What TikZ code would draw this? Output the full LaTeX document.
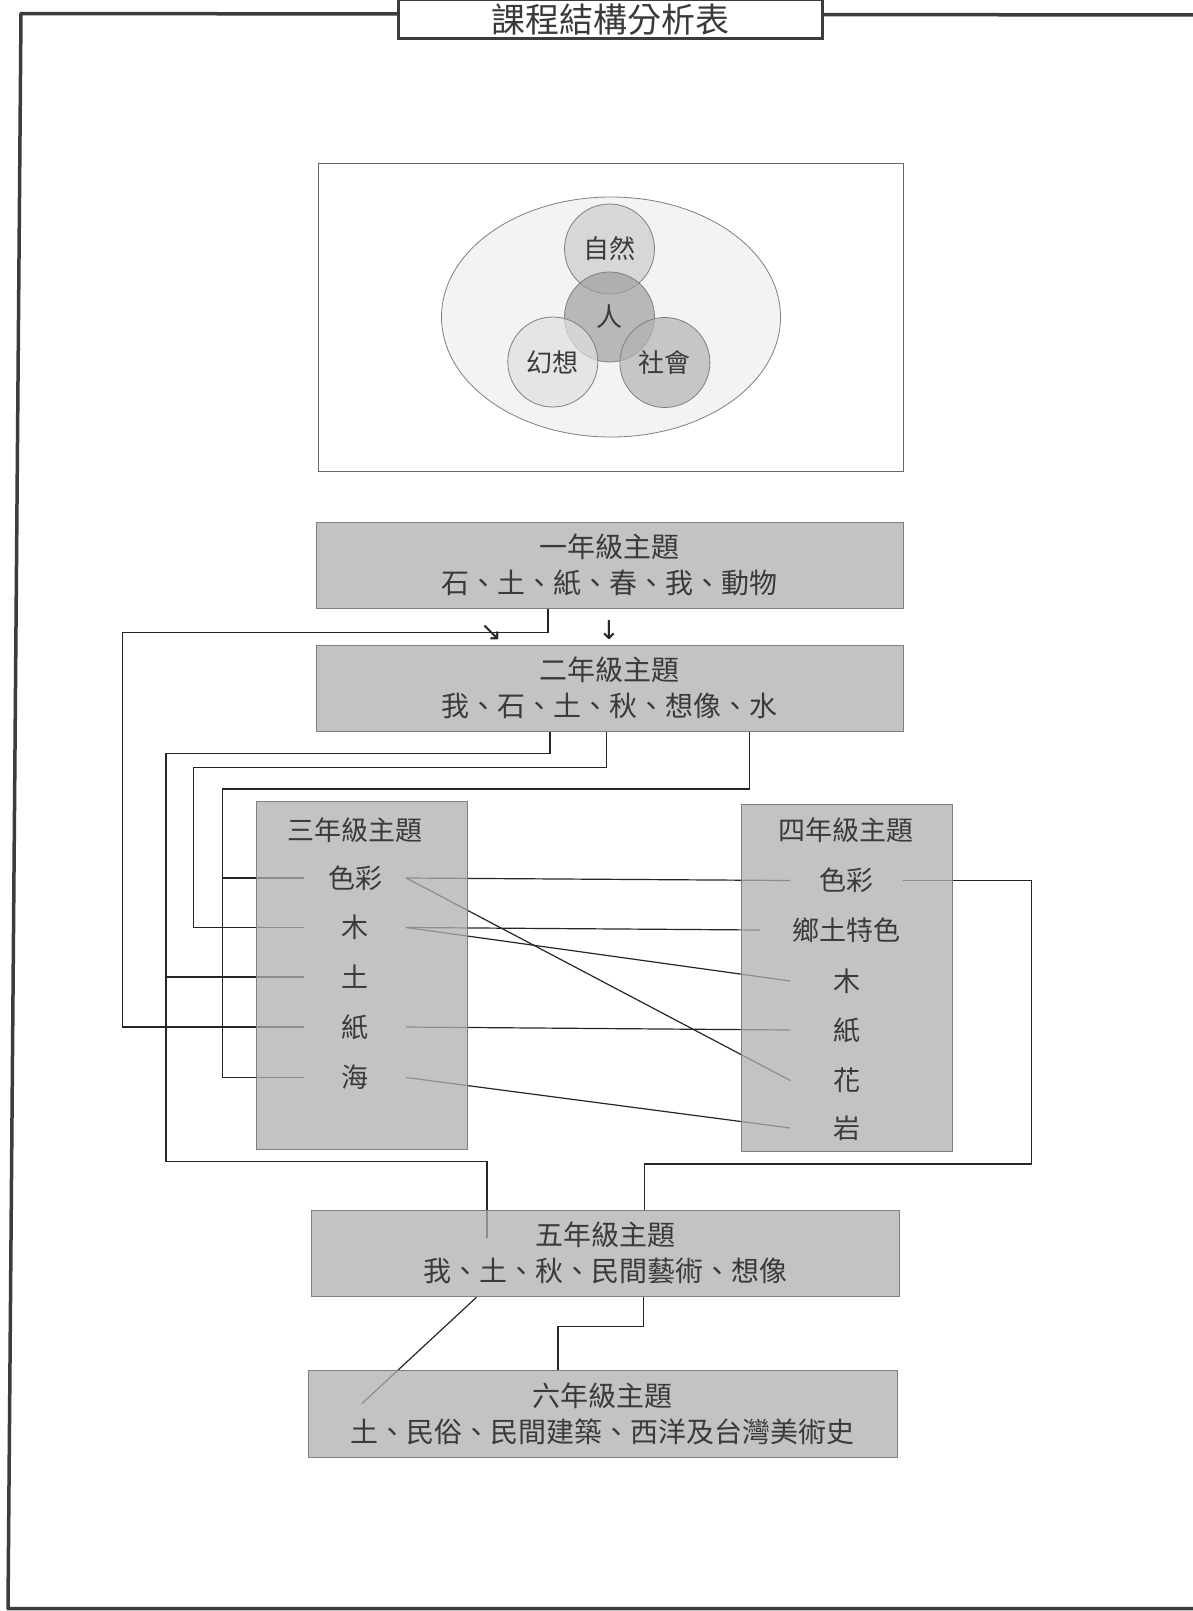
\documentclass[tikz,border=0pt]{standalone}
\usepackage{fontspec}
\setmainfont{Noto Sans CJK TC}
\newfontfamily\arrowfont{DejaVu Sans}
\usepackage{tikz}
\usetikzlibrary{calc}
\definecolor{ink}{HTML}{3A3A3A}
\definecolor{framec}{HTML}{3C3C3C}
\definecolor{wire}{HTML}{262626}
\definecolor{edge}{HTML}{7F7F7F}
\definecolor{boxc}{HTML}{B0B0B0}
\definecolor{pale}{HTML}{F3F3F3}
\definecolor{ziranc}{HTML}{CCCCCC}
\definecolor{renc}{HTML}{9F9F9F}
\definecolor{huanc}{HTML}{E0E0E0}
\definecolor{shec}{HTML}{B3B3B3}
\tikzset{
  frame/.style={draw=framec, line width=3.5pt, line join=round},
  pane/.style={draw=edge!80!black, line width=0.9pt},
  link/.style={draw=wire, line width=1.2pt},
  grade/.style={draw=edge, line width=1pt, fill=boxc, fill opacity=.75, text opacity=1,
    text=ink, minimum width=587, minimum height=86.5, inner sep=0pt, align=center,
    font=\fontsize{28}{36}\selectfont},
  col/.style={draw=edge, line width=1pt, fill=boxc, fill opacity=.75,
    minimum width=211, minimum height=347.5, inner sep=0pt},
  item/.style={text=ink, inner sep=0pt, font=\fontsize{27}{27}\selectfont},
  item3/.style={item, minimum width=102},
  item4/.style={item, minimum width=112},
  bub/.style={circle, draw=edge, line width=.8pt, minimum size=90, inner sep=0pt,
    fill opacity=.7, text opacity=1, text=ink, font=\fontsize{26}{26}\selectfont},
  arr/.style={text=wire, inner sep=0pt, font=\arrowfont\fontsize{26}{26}\selectfont},
}
\pgfdeclarelayer{bg}
\pgfsetlayers{bg,main}

\begin{document}
\begin{tikzpicture}[x=1pt,y=-1pt]
  \useasboundingbox (0,0) rectangle (1192,1611);

  % page frame and title
  \draw[frame] (1193,15) -- (21,13.5) -- (8,1608.5) -- (1193,1608.5);
  \node[draw=framec, line width=3pt, fill=white, minimum width=424, minimum height=39,
        inner sep=0pt, text=ink, font=\fontsize{34}{34}\selectfont] (title) at (610,19.5) {課程結構分析表};

  % core diagram
  \draw[pane] (318.6,163.5) rectangle (903.5,471.7);
  \draw[draw=edge, line width=.8pt, fill=pale] (611,317) ellipse [x radius=169.5, y radius=120];
  \node[bub, fill=ziranc] (ziran) at (609.5,249) {自然};
  \node[bub, fill=renc] (ren) at (609.5,317) {人};
  \node[bub, fill=huanc] (huan) at (552.8,362) {幻想};
  \node[bub, fill=shec] (she) at (664.9,362.5) {社會};

  % grade boxes
  \node[grade] (g1) at (609.5,565.3) {一年級主題\\石、土、紙、春、我、動物};
  \node[grade] (g2) at (609.5,688.3) {二年級主題\\我、石、土、秋、想像、水};
  \node[grade, minimum width=588] (g5) at (605,1253.5) {五年級主題\\我、土、秋、民間藝術、想像};
  \node[grade, minimum width=588.5] (g6) at (602.8,1414) {六年級主題\\土、民俗、民間建築、西洋及台灣美術史};

  \node[arr] (arrA) at (491,633) {↘};
  \node[arr] (arrB) at (609,630) {↓};

  % grade 3 and 4 columns
  \node[col] (g3) at (362.3,975.3) {};
  \node[col] (g4) at (846.7,977.9) {};
  \node[item] (h3) at (354.5,830) {三年級主題};
  \node[item] (h4) at (846,830) {四年級主題};
  \foreach \n/\t/\y in {se/色彩/878, mu/木/927.5, tu/土/977, zhi/紙/1027, hai/海/1077.5}
    \node[item3] (t3\n) at (355,\y) {\t};
  \foreach \n/\t/\y in {se/色彩/880.5, mu/木/981, zhi/紙/1030, hua/花/1080.5, yan/岩/1128}
    \node[item4] (t4\n) at (846.5,\y) {\t};
  \node[item, minimum width=171] (t4xiang) at (846,930) {鄉土特色};

  % bends of the connectors
  \coordinate (xA) at (548,0);     \coordinate (railA) at (122.5,632.7);
  \coordinate (xB) at (550,0);     \coordinate (railB) at (166,753.3);
  \coordinate (bendB) at (487,1161.7); \coordinate (g5in) at (487,1238);
  \coordinate (xC) at (606.7,0);   \coordinate (railC) at (193.6,767.5);
  \coordinate (xD) at (749.5,0);   \coordinate (railD) at (222.7,789);
  \coordinate (railE) at (1031.7,1164); \coordinate (xE) at (644.8,0);
  \coordinate (xF) at (476.5,0);   \coordinate (g6in) at (362,1403.5);
  \coordinate (xG) at (643.5,0);   \coordinate (railG) at (558,1326.5);

  \begin{pgfonlayer}{bg}
    \fill[white] (0,0) rectangle (1192,1611);
    \draw[link] (g1.south -| xA) |- (railA) |- (t3zhi.west);
    \draw[link] (g2.south -| xB) |- (railB) |- (bendB) -- (g5in);
    \draw[link] (railB |- t3tu.west) -- (t3tu.west);
    \draw[link] (g2.south -| xC) |- (railC) |- (t3mu.west);
    \draw[link] (g2.south -| xD) |- (railD) |- (t3hai.west);
    \draw[link] (railD |- t3se.west) -- (t3se.west);

    % links between grade 3 and grade 4
    \draw[link] (t3se.east) -- (t4se.west);
    \draw[link] (t3se.east) -- (t4hua.west);
    \draw[link] (t3mu.east) -- (t4xiang.west);
    \draw[link] (t3mu.east) -- (t4mu.west);
    \draw[link] (t3zhi.east) -- (t4zhi.west);
    \draw[link] (t3hai.east) -- (t4yan.west);
    \draw[link] (t4se.east) -| (railE) -| (g5.north -| xE);

    \draw[link] (g5.south -| xF) -- (g6in);
    \draw[link] (g5.south -| xG) |- (railG) -- (g6.north -| railG);
  \end{pgfonlayer}
\end{tikzpicture}
\end{document}
